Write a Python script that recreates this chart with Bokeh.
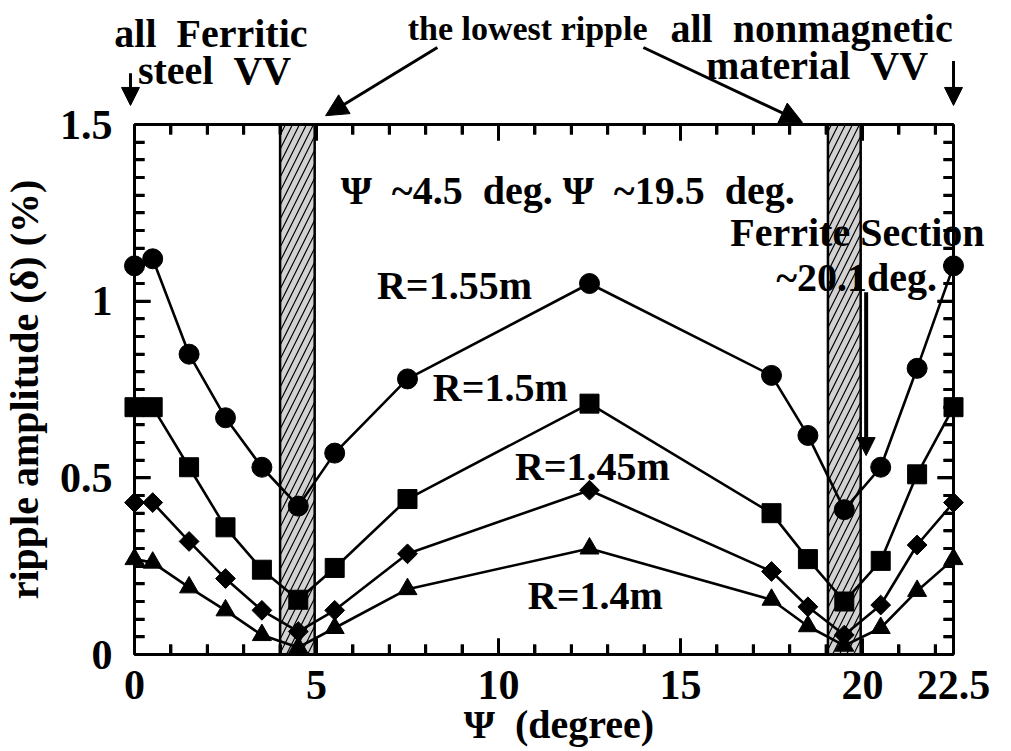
from bokeh.plotting import figure
from bokeh.models import Range1d, LinearAxis, FixedTicker, Label, Arrow, NormalHead, CustomJSTickFormatter
from bokeh.embed import file_html
from bokeh.resources import INLINE
import math

# ---- data ----
psi = [0, 0.5, 1.5, 2.5, 3.5, 4.5, 5.5, 7.5, 12.5, 17.5, 18.5, 19.5, 20.5, 21.5, 22.5]
r155 = [1.10, 1.12, 0.85, 0.67, 0.53, 0.42, 0.57, 0.78, 1.05, 0.79, 0.62, 0.41, 0.53, 0.81, 1.10]
r150 = [0.70, 0.70, 0.53, 0.36, 0.24, 0.155, 0.245, 0.44, 0.71, 0.40, 0.27, 0.15, 0.265, 0.51, 0.70]
r145 = [0.43, 0.43, 0.32, 0.215, 0.125, 0.065, 0.125, 0.285, 0.465, 0.235, 0.135, 0.055, 0.14, 0.31, 0.43]
r140 = [0.27, 0.26, 0.19, 0.125, 0.055, 0.02, 0.075, 0.185, 0.30, 0.155, 0.08, 0.025, 0.075, 0.18, 0.27]

band_left = [4.0, 19.05]
band_right = [4.95, 19.95]

x_ticks = [0, 5, 10, 15, 20, 22.5]
x_tick_labels = ["0", "5", "10", "15", "20", "22.5"]
y_ticks = [0, 0.5, 1.0, 1.5]
y_tick_labels = ["0", "0.5", "1", "1.5"]
x_minor = list(range(0, 23))
y_minor = [round(i * 0.05, 2) for i in range(0, 31)]

X0, X1 = 0, 22.5
Y0, Y1 = 0, 1.5

FONT = "Liberation Serif"
NB = "\u00a0"

W, H = 1011, 751
XR = (-3.681, 24.093)
YR = (-0.2745, 1.851)

p = figure(width=W, height=H, output_backend="svg", toolbar_location=None,
           x_range=Range1d(*XR), y_range=Range1d(*YR), min_border=0)
p.grid.visible = False
p.outline_line_color = None
p.background_fill_color = "white"
p.border_fill_color = "white"

# inward tick marks on all four sides, placed from the tick lists
dx = (XR[1] - XR[0]) / W
dy = (YR[1] - YR[0]) / H
MAJ, MIN = 16, 10
TW = 3
xt = [t for t in x_minor if 0 < t < X1]
xl = [MAJ if t % 5 == 0 else MIN for t in xt]
yt = [t for t in y_minor if 0 < t < Y1]
yl = [MAJ if abs(t * 2 - round(t * 2)) < 1e-6 else MIN for t in yt]
p.segment(x0=xt, y0=[Y0] * len(xt), x1=xt, y1=[Y0 + l * dy for l in xl], line_color="black", line_width=TW)
p.segment(x0=xt, y0=[Y1] * len(xt), x1=xt, y1=[Y1 - l * dy for l in xl], line_color="black", line_width=TW)
p.segment(x0=[X0] * len(yt), y0=yt, x1=[X0 + l * dx for l in yl], y1=yt, line_color="black", line_width=TW)
p.segment(x0=[X1] * len(yt), y0=yt, x1=[X1 - l * dx for l in yl], y1=yt, line_color="black", line_width=TW)

p.quad(left=band_left, right=band_right, bottom=Y0, top=Y1,
       fill_color="#d2d2d2", hatch_pattern="/", hatch_color="black",
       hatch_scale=14, hatch_weight=1.2, line_color="black", line_width=2.5)

LW = 2.6
p.line(psi, r155, line_color="black", line_width=LW)
p.scatter(psi, r155, marker="circle", size=20, color="black")
p.line(psi, r150, line_color="black", line_width=LW)
p.scatter(psi, r150, marker="square", size=19, color="black")
p.line(psi, r145, line_color="black", line_width=LW)
p.scatter(psi, r145, marker="square", size=14, angle=math.pi / 4, color="black")
p.line(psi, r140, line_color="black", line_width=LW)
p.scatter(psi, r140, marker="triangle", size=19, color="black")

def style_axis(ax, ticks, minor):
    ax.ticker = FixedTicker(ticks=ticks, minor_ticks=minor)
    ax.axis_line_width = 3
    ax.axis_line_color = "black"
    ax.major_tick_in = 16
    ax.major_tick_out = 0
    ax.minor_tick_in = 10
    ax.minor_tick_out = 0
    ax.major_tick_line_width = 3
    ax.minor_tick_line_width = 3
    ax.major_tick_line_color = "#000000"
    ax.minor_tick_line_color = "#000000"

def style_labels(ax, ticks, labels):
    ax.major_label_overrides = dict(zip(ticks, labels))
    ax.major_label_text_font = FONT
    ax.major_label_text_font_style = "bold"
    ax.major_label_text_color = "black"
    ax.major_label_text_font_size = "42px"
    ax.axis_label_text_font = FONT
    ax.axis_label_text_font_style = "bold"
    ax.axis_label_text_color = "black"
    ax.axis_label_text_font_size = "40px"

xa = p.xaxis[0]
style_axis(xa, x_ticks, x_minor)
style_labels(xa, x_ticks, x_tick_labels)
xa.fixed_location = Y0
xa.bounds = (X0, X1)
xa.major_label_standoff = 16
xa.axis_label = NB + NB + NB + "\u03a8" + NB + NB + "(degree)"
xa.axis_label_standoff = 0

ya = p.yaxis[0]
style_axis(ya, y_ticks, y_minor)
style_labels(ya, y_ticks, y_tick_labels)
ya.fixed_location = X0
ya.bounds = (Y0, Y1)
ya.major_label_standoff = 22
ya.axis_label = "ripple amplitude (\u03b4) (%)"
ya.axis_label_standoff = 10

top = LinearAxis(formatter=CustomJSTickFormatter(code="return ''"))
style_axis(top, x_ticks, x_minor)
top.fixed_location = Y1
top.bounds = (X0, X1)
p.add_layout(top, "above")
right = LinearAxis(formatter=CustomJSTickFormatter(code="return ''"))
style_axis(right, y_ticks, y_minor)
right.fixed_location = X1
right.bounds = (Y0, Y1)
p.add_layout(right, "right")

def lab(x, y, text, size="40px"):
    p.add_layout(Label(x=x, y=y, text=text, text_align="center", text_baseline="middle",
                       text_font=FONT, text_font_style="bold", text_font_size=size,
                       text_color="black"))

lab(2.1, 1.758, "all" + NB + NB + "Ferritic")
lab(2.2, 1.653, "steel" + NB + NB + "VV")
lab(10.8, 1.772, "the lowest ripple", "34px")
lab(18.6, 1.772, "all" + NB + NB + "nonmagnetic")
lab(18.75, 1.667, "material" + NB + NB + "VV")
lab(11.9, 1.313, "\u03a8" + NB + NB + "~4.5" + NB + NB + "deg." + NB + "\u03a8" + NB + NB + "~19.5" + NB + NB + "deg.")
lab(8.79, 1.044, "R=1.55m")
lab(10.05, 0.756, "R=1.5m")
lab(12.58, 0.532, "R=1.45m")
lab(12.66, 0.167, "R=1.4m")
lab(19.86, 1.194, "Ferrite Section")
lab(19.84, 1.067, "~20.1deg.")

def arr(x0, y0, x1, y1, size=18, lw=3):
    p.add_layout(Arrow(x_start=x0, y_start=y0, x_end=x1, y_end=y1, line_width=lw, line_color="black",
                       end=NormalHead(size=size, fill_color="black", line_color="black")))

arr(-0.11, 1.645, -0.11, 1.554)
arr(22.5, 1.68, 22.5, 1.554)
arr(8.32, 1.718, 5.25, 1.525, size=22)
arr(13.98, 1.718, 18.35, 1.506, size=22)
arr(20.1, 1.025, 20.1, 0.563, size=18, lw=4)

open("out.html", "w").write(file_html(p, INLINE))
